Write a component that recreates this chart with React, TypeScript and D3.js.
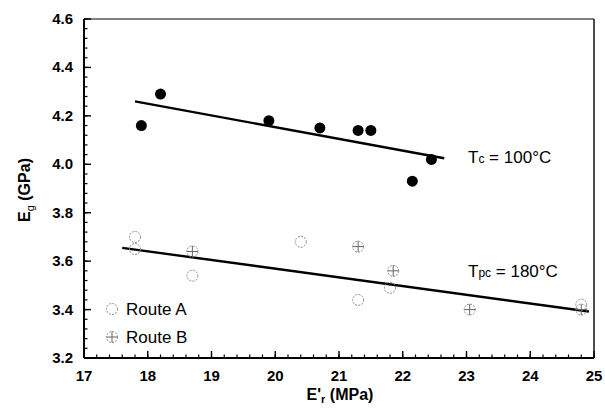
// App.tsx - Eg vs E'r scatter with two fitted lines
import React, { useEffect } from 'react';
import * as d3 from 'd3';

// Tc = 100°C (filled)
const tcX = [17.9, 18.2, 19.9, 20.7, 21.3, 21.5, 22.15, 22.45];
const tcY = [4.16, 4.29, 4.18, 4.15, 4.14, 4.14, 3.93, 4.02];
const tcFitX = [17.8, 22.65];
const tcFitY = [4.26, 4.025];

// Tpc = 180°C, route A (open circles)
const routeAX = [17.8, 17.8, 18.7, 20.4, 21.3, 21.8, 24.8];
const routeAY = [3.70, 3.65, 3.54, 3.68, 3.44, 3.49, 3.42];
// Tpc = 180°C, route B (crossed circles)
const routeBX = [18.7, 21.3, 21.85, 23.05, 24.8];
const routeBY = [3.64, 3.66, 3.56, 3.40, 3.40];
const tpcFitX = [17.6, 24.92];
const tpcFitY = [3.655, 3.392];

const xTicks = [17, 18, 19, 20, 21, 22, 23, 24, 25];
const yTicks = [3.2, 3.4, 3.6, 3.8, 4.0, 4.2, 4.4, 4.6];

const W = 605;
const H = 413;
const left = 84, right = 594, top = 19, bottom = 358;
const font = '"Liberation Sans", Arial, sans-serif';

export default function App() {
  useEffect(() => {
    document.body.style.margin = '0';
  }, []);

  const x = d3.scaleLinear().domain([17, 25]).range([left, right]);
  const y = d3.scaleLinear().domain([3.2, 4.6]).range([bottom, top]);

  // minor ticks: every 0.2 on x, every 0.04 on y
  const xMinor = d3.range(0, 41).map(i => 17 + i * 0.2);
  const yMinor = d3.range(0, 36).map(i => 3.2 + i * 0.04);

  const fitPath = (xs: number[], ys: number[]) =>
    d3.line<number>().x(v => x(v)).y((_, i) => y(ys[i]))(xs) || '';

  const r = 5.5;
  const grey = '#8a8a8a';

  const openCircle = (cx: number, cy: number, key: string) => (
    <circle key={key} cx={cx} cy={cy} r={r} fill="none" stroke={grey}
      strokeWidth={1} strokeDasharray="2,1.2" />
  );
  const crossCircle = (cx: number, cy: number, key: string) => (
    <g key={key}>
      <circle cx={cx} cy={cy} r={r} fill="none" stroke={grey} strokeWidth={1} strokeDasharray="2,1.2" />
      <line x1={cx - r} x2={cx + r} y1={cy} y2={cy} stroke="#666" strokeWidth={1} />
      <line x1={cx} x2={cx} y1={cy - r} y2={cy + r} stroke="#666" strokeWidth={1} />
    </g>
  );

  return (
    <svg width={W} height={H} style={{ display: 'block', background: '#fff' }} fontFamily={font}>
      {/* frame */}
      <line x1={left} x2={right} y1={top} y2={top} stroke="#555" strokeWidth={1.6} />
      <line x1={right} x2={right} y1={top} y2={bottom} stroke="#111" strokeWidth={1.5} />
      <line x1={left} x2={left} y1={top} y2={bottom} stroke="#000" strokeWidth={2} />
      <line x1={left} x2={right} y1={bottom} y2={bottom} stroke="#000" strokeWidth={2} />

      {/* minor ticks */}
      {xMinor.map((v, i) => (
        <line key={'xm' + i} x1={x(v)} x2={x(v)} y1={bottom} y2={bottom - 3.5} stroke="#000" strokeWidth={1.2} />
      ))}
      {yMinor.map((v, i) => (
        <line key={'ym' + i} x1={left} x2={left + 3.5} y1={y(v)} y2={y(v)} stroke="#000" strokeWidth={1.2} />
      ))}
      {/* major ticks + labels */}
      {xTicks.map(v => (
        <g key={'x' + v}>
          <line x1={x(v)} x2={x(v)} y1={bottom} y2={bottom - 7} stroke="#000" strokeWidth={1.4} />
          <text x={x(v)} y={381} textAnchor="middle" fontSize={15} fontWeight="bold">{v}</text>
        </g>
      ))}
      {yTicks.map(v => (
        <g key={'y' + v}>
          <line x1={left} x2={left + 7} y1={y(v)} y2={y(v)} stroke="#000" strokeWidth={1.4} />
          <text x={73} y={y(v) + 5} textAnchor="end" fontSize={15} fontWeight="bold">{v.toFixed(1)}</text>
        </g>
      ))}

      {/* axis titles */}
      <text x={340} y={400} textAnchor="middle" fontSize={16} fontWeight="bold">
        E'<tspan fontSize={11} dy={3}>r</tspan><tspan dy={-3}> (MPa)</tspan>
      </text>
      <text transform="translate(30,190) rotate(-90)" textAnchor="middle" fontSize={16} fontWeight="bold">
        E<tspan fontSize={11} dy={4} fontWeight="normal">g</tspan><tspan dy={-4}> (GPa)</tspan>
      </text>

      {/* fitted lines */}
      <path d={fitPath(tcFitX, tcFitY)} fill="none" stroke="#000" strokeWidth={2.4} />
      <path d={fitPath(tpcFitX, tpcFitY)} fill="none" stroke="#000" strokeWidth={2.4} />

      {/* Tc points */}
      {tcX.map((v, i) => (
        <circle key={'tc' + i} cx={x(v)} cy={y(tcY[i])} r={5.5} fill="#000" />
      ))}
      {/* route A / B points */}
      {routeAX.map((v, i) => openCircle(x(v), y(routeAY[i]), 'a' + i))}
      {routeBX.map((v, i) => crossCircle(x(v), y(routeBY[i]), 'b' + i))}

      {/* annotations */}
      <text x={468} y={163} fontSize={17}>
        T<tspan fontSize={12}>c</tspan> = 100°C
      </text>
      <text x={468} y={277} fontSize={17}>
        T<tspan fontSize={12}>pc</tspan> = 180°C
      </text>

      {/* legend */}
      {openCircle(112, 309, 'legA')}
      <text x={126} y={315} fontSize={17}>Route A</text>
      {crossCircle(112, 337, 'legB')}
      <text x={126} y={343} fontSize={17}>Route B</text>
    </svg>
  );
}
